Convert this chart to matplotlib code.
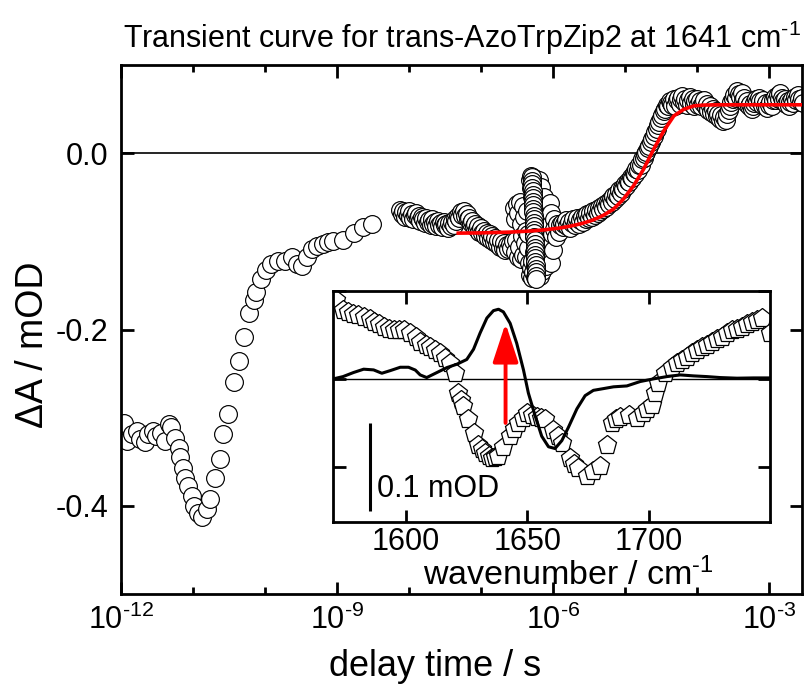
import matplotlib
matplotlib.use("Agg")
import matplotlib.pyplot as plt
import numpy as np
from matplotlib.ticker import FixedLocator, FixedFormatter, NullFormatter

plt.rcParams['font.family'] = ['Liberation Sans', 'DejaVu Sans']
plt.rcParams['mathtext.fontset'] = 'custom'
plt.rcParams['mathtext.rm'] = 'Liberation Sans'
plt.rcParams['mathtext.it'] = 'Liberation Sans:italic'
plt.rcParams['mathtext.bf'] = 'Liberation Sans:bold'
plt.rcParams['mathtext.default'] = 'regular'
plt.rcParams['axes.unicode_minus'] = False

# ---- transient at 1641 cm-1 (delay given as log10 of seconds) ----
early_logt = [-11.96, -11.92, -11.85, -11.78, -11.74, -11.67, -11.62, -11.55, -11.51, -11.44,
              -11.39, -11.34, -11.30, -11.25, -11.20, -11.18, -11.14, -11.11, -11.07, -11.02,
              -10.98, -10.93, -10.88, -10.81, -10.76, -10.69, -10.63, -10.58, -10.51, -10.43,
              -10.36, -10.29, -10.22, -10.15, -10.12, -10.05, -9.98, -9.91, -9.82, -9.72,
              -9.63, -9.55, -9.49, -9.42, -9.35, -9.28, -9.20, -9.12, -9.05, -8.91,
              -8.77, -8.64, -8.51]
early_val = [-0.306, -0.326, -0.319, -0.315, -0.324, -0.328, -0.319, -0.315, -0.321, -0.317,
             -0.326, -0.307, -0.311, -0.323, -0.334, -0.345, -0.357, -0.368, -0.377, -0.389,
             -0.400, -0.408, -0.413, -0.404, -0.392, -0.368, -0.347, -0.318, -0.296, -0.260,
             -0.236, -0.209, -0.181, -0.166, -0.158, -0.143, -0.132, -0.126, -0.122, -0.122,
             -0.118, -0.126, -0.128, -0.118, -0.109, -0.105, -0.103, -0.101, -0.100, -0.098,
             -0.090, -0.084, -0.080]

ns_logt = [-8.12, -8.10, -8.08, -8.06, -8.04, -8.02, -8.00, -7.98, -7.96, -7.94,
           -7.92, -7.90, -7.88, -7.86, -7.84, -7.82, -7.80, -7.78, -7.76, -7.74,
           -7.72, -7.70, -7.68, -7.66, -7.64, -7.62, -7.60, -7.58, -7.56, -7.54,
           -7.52, -7.50, -7.48, -7.46, -7.44, -7.42, -7.40, -7.38, -7.36, -7.34,
           -7.32, -7.30, -7.28, -7.26, -7.24, -7.22, -7.20, -7.18, -7.16, -7.14,
           -7.12, -7.10, -7.08, -7.06, -7.04, -7.02, -7.00, -6.98, -6.96, -6.94,
           -6.92, -6.90, -6.88, -6.86, -6.84, -6.82, -6.80, -6.78, -6.76, -6.74,
           -6.72, -6.70, -6.68, -6.66, -6.64, -6.62, -6.60, -6.58, -6.56]
ns_val = [-0.064, -0.069, -0.066, -0.072, -0.067, -0.070, -0.065, -0.073, -0.069, -0.075,
          -0.070, -0.068, -0.074, -0.071, -0.077, -0.072, -0.075, -0.079, -0.073, -0.078,
          -0.076, -0.081, -0.075, -0.080, -0.078, -0.083, -0.077, -0.082, -0.079, -0.084,
          -0.078, -0.082, -0.080, -0.085, -0.079, -0.083, -0.078, -0.081, -0.075, -0.077,
          -0.071, -0.073, -0.067, -0.070, -0.066, -0.071, -0.069, -0.075, -0.073, -0.079,
          -0.077, -0.083, -0.080, -0.086, -0.083, -0.089, -0.085, -0.091, -0.088, -0.094,
          -0.090, -0.096, -0.092, -0.099, -0.094, -0.101, -0.096, -0.103, -0.098, -0.106,
          -0.100, -0.108, -0.102, -0.110, -0.104, -0.109, -0.103, -0.107, -0.100]

# scattered stretch where the two delay ranges overlap
noisy_logt = [-6.54, -6.53, -6.52, -6.51, -6.50, -6.49, -6.48, -6.47, -6.46, -6.45,
              -6.44, -6.43, -6.42, -6.41, -6.40, -6.39, -6.38, -6.37, -6.36, -6.35,
              -6.34, -6.33, -6.32, -6.315, -6.31, -6.305, -6.30, -6.295, -6.29, -6.285,
              -6.28, -6.275, -6.27, -6.265, -6.26, -6.255, -6.25, -6.245, -6.24, -6.235,
              -6.23, -6.225, -6.22, -6.215, -6.21, -6.205, -6.20, -6.195, -6.19, -6.185,
              -6.18, -6.175, -6.17, -6.165, -6.16, -6.155, -6.15, -6.145, -6.14, -6.13,
              -6.12, -6.11, -6.10, -6.09, -6.08, -6.07, -6.06, -6.05, -6.04, -6.03,
              -6.02, -6.01, -6.00, -5.99, -5.98, -5.96, -5.94, -5.92, -5.90]
noisy_val = [-0.062, -0.112, -0.075, -0.098, -0.058, -0.118, -0.068, -0.106, -0.055, -0.120,
             -0.080, -0.094, -0.060, -0.115, -0.072, -0.102, -0.088, -0.118, -0.065, -0.108,
             -0.092, -0.125, -0.030, -0.138, -0.040, -0.130, -0.026, -0.142, -0.050, -0.122,
             -0.035, -0.135, -0.060, -0.112, -0.028, -0.140, -0.045, -0.128, -0.070, -0.100,
             -0.033, -0.136, -0.055, -0.118, -0.040, -0.132, -0.065, -0.108, -0.030, -0.139,
             -0.048, -0.125, -0.078, -0.095, -0.038, -0.134, -0.058, -0.115, -0.085, -0.120,
             -0.050, -0.110, -0.070, -0.128, -0.060, -0.100, -0.082, -0.118, -0.056, -0.124,
             -0.068, -0.092, -0.110, -0.075, -0.086, -0.095, -0.080, -0.089, -0.082]
column_logt = [-6.29, -6.288, -6.286, -6.284, -6.282, -6.28, -6.278, -6.276, -6.274, -6.272,
               -6.27, -6.268, -6.266, -6.264, -6.262, -6.26, -6.258, -6.256, -6.254, -6.252,
               -6.25, -6.248, -6.246, -6.244, -6.242, -6.24, -6.238, -6.236, -6.234, -6.232]
column_val = [-0.027, -0.031, -0.035, -0.039, -0.043, -0.047, -0.051, -0.055, -0.059, -0.063,
              -0.067, -0.071, -0.075, -0.079, -0.083, -0.087, -0.091, -0.095, -0.099, -0.103,
              -0.107, -0.111, -0.115, -0.119, -0.123, -0.127, -0.131, -0.135, -0.139, -0.143]

rise_logt = [-5.88, -5.86, -5.84, -5.82, -5.80, -5.78, -5.76, -5.74, -5.72, -5.70,
             -5.68, -5.66, -5.64, -5.62, -5.60, -5.58, -5.56, -5.54, -5.52, -5.50,
             -5.48, -5.46, -5.44, -5.42, -5.40, -5.38, -5.36, -5.34, -5.32, -5.30,
             -5.28, -5.26, -5.24, -5.22, -5.20, -5.18, -5.16, -5.14, -5.12, -5.10,
             -5.08, -5.06, -5.04, -5.02, -5.00, -4.98, -4.96, -4.94, -4.92, -4.90,
             -4.88, -4.86, -4.84, -4.82, -4.80, -4.78, -4.76, -4.74, -4.72, -4.70,
             -4.68, -4.66, -4.64, -4.62, -4.60, -4.58, -4.56, -4.54, -4.52, -4.50,
             -4.48, -4.46, -4.44, -4.42, -4.40, -4.38, -4.36]
rise_val = [-0.079, -0.084, -0.080, -0.076, -0.083, -0.078, -0.085, -0.079, -0.075, -0.082,
            -0.077, -0.073, -0.080, -0.076, -0.072, -0.078, -0.071, -0.075, -0.069, -0.073,
            -0.068, -0.072, -0.066, -0.070, -0.064, -0.068, -0.062, -0.066, -0.060, -0.063,
            -0.058, -0.061, -0.055, -0.058, -0.052, -0.055, -0.049, -0.052, -0.046, -0.048,
            -0.042, -0.045, -0.039, -0.041, -0.035, -0.037, -0.031, -0.033, -0.027, -0.028,
            -0.022, -0.024, -0.018, -0.019, -0.013, -0.013, -0.007, -0.006, -0.001, 0.001,
            0.006, 0.008, 0.013, 0.016, 0.020, 0.024, 0.027, 0.032, 0.035, 0.040,
            0.043, 0.048, 0.050, 0.055, 0.054, 0.059, 0.057]

plateau_logt = [-4.34, -4.32, -4.30, -4.28, -4.26, -4.24, -4.22, -4.20, -4.18, -4.16,
                -4.14, -4.12, -4.10, -4.08, -4.06, -4.04, -4.02, -4.00, -3.98, -3.96,
                -3.94, -3.92, -3.90, -3.88, -3.86, -3.84, -3.82, -3.80, -3.78, -3.76,
                -3.74, -3.72, -3.70, -3.68, -3.66, -3.64, -3.62, -3.60, -3.58, -3.56,
                -3.54, -3.52, -3.50, -3.48, -3.46, -3.44, -3.42, -3.40, -3.38, -3.36,
                -3.34, -3.32, -3.30, -3.28, -3.26, -3.24, -3.22, -3.20, -3.18, -3.16,
                -3.14, -3.12, -3.10, -3.08, -3.06, -3.04, -3.02, -3.00, -2.98, -2.96,
                -2.94, -2.92, -2.90, -2.88, -2.86, -2.84, -2.82, -2.80, -2.78, -2.76,
                -2.74, -2.72, -2.70, -2.68, -2.66, -2.64, -2.62, -2.60, -2.58, -2.56,
                -2.54, -2.52]
plateau_val = [0.055, 0.061, 0.054, 0.060, 0.063, 0.056, 0.061, 0.065, 0.058, 0.062,
               0.055, 0.060, 0.064, 0.057, 0.061, 0.054, 0.059, 0.062, 0.055, 0.059,
               0.053, 0.057, 0.060, 0.052, 0.056, 0.049, 0.053, 0.047, 0.050, 0.044,
               0.048, 0.042, 0.045, 0.039, 0.043, 0.036, 0.041, 0.038, 0.045, 0.049,
               0.054, 0.058, 0.062, 0.066, 0.063, 0.070, 0.067, 0.064, 0.068, 0.060,
               0.063, 0.057, 0.059, 0.053, 0.056, 0.050, 0.054, 0.057, 0.061, 0.058,
               0.063, 0.059, 0.055, 0.060, 0.053, 0.057, 0.051, 0.055, 0.058, 0.053,
               0.060, 0.064, 0.060, 0.066, 0.062, 0.068, 0.063, 0.059, 0.062, 0.056,
               0.059, 0.054, 0.058, 0.061, 0.057, 0.064, 0.060, 0.066, 0.061, 0.058,
               0.063, 0.057]

# exponential fit of the slow phase
fit_logt = [-7.34, -7.00, -6.60, -6.30, -6.10, -5.90, -5.75, -5.60, -5.45, -5.30,
            -5.16, -5.02, -4.88, -4.74, -4.60, -4.46, -4.32, -4.18, -4.04, -3.90,
            -3.70, -3.40, -3.00, -2.50]
fit_val = [-0.0907, -0.0904, -0.0895, -0.0882, -0.0868, -0.0848, -0.0826, -0.0798, -0.0760, -0.0705,
           -0.0635, -0.0520, -0.0370, -0.0181, 0.0045, 0.0253, 0.0423, 0.0499, 0.0537, 0.0546,
           0.0549, 0.0549, 0.0549, 0.0549]

# ---- inset spectra ----
ftir_wn = [1571, 1574, 1576, 1578, 1580, 1582.5, 1585, 1586.6, 1589, 1590.8,
           1593, 1594.9, 1597, 1599, 1601.8, 1604, 1605.9, 1608, 1610, 1612,
           1614, 1616, 1618.2, 1620.2, 1621.6, 1622.6, 1623.6, 1625.7, 1627.8, 1629.8,
           1631.2, 1632.6, 1634, 1635.3, 1636.6, 1638, 1640.1, 1642.9, 1644.6, 1646.3,
           1648, 1649.7, 1651.8, 1653.8, 1655.5, 1657.3, 1660.7, 1662.5, 1664.2, 1667.6,
           1669.3, 1671, 1674.5, 1677.2, 1680, 1682.7, 1684.8, 1686.5, 1688.2, 1691.7,
           1695, 1697.8, 1699.5, 1701.2, 1702.6, 1704, 1706.7, 1709.5, 1711.5, 1713.6,
           1715.7, 1717.7, 1719.8, 1721.9, 1724, 1726, 1728, 1730.1, 1732.2, 1734.3,
           1736.4, 1738.4, 1740.5, 1742.5, 1744.6, 1746.6, 1750]
ftir_val = [0.0895, 0.078, 0.076, 0.074, 0.072, 0.0706, 0.068, 0.065, 0.062, 0.059,
            0.057, 0.0555, 0.056, 0.0555, 0.0517, 0.047, 0.042, 0.039, 0.0366, 0.033,
            0.029, 0.024, 0.0178, 0.0065, -0.016, -0.024, -0.031, -0.046, -0.0615, -0.075,
            -0.080, -0.084, -0.087, -0.090, -0.089, -0.088, -0.0767, -0.065, -0.057, -0.050,
            -0.044, -0.039, -0.041, -0.0427, -0.044, -0.046, -0.0578, -0.065, -0.0728, -0.0898,
            -0.096, -0.101, -0.1106, -0.105, -0.0985, -0.075, -0.050, -0.046, -0.0427, -0.041,
            -0.0445, -0.039, -0.034, -0.0295, -0.016, -0.005, 0.0065, 0.014, 0.018, 0.0215,
            0.025, 0.029, 0.033, 0.0366, 0.039, 0.042, 0.045, 0.048, 0.052, 0.0555,
            0.057, 0.059, 0.062, 0.065, 0.067, 0.0687, 0.0517]

trans_wn = [1570, 1574, 1578.3, 1582.5, 1586.6, 1590, 1593.5, 1597.6, 1601, 1603.8,
            1605.8, 1608.5, 1612.7, 1616.8, 1620.9, 1625, 1627.8, 1630.5, 1633.3, 1636,
            1638.1, 1640.1, 1642.9, 1645.6, 1648.4, 1650.4, 1653.2, 1655.9, 1658.7, 1661.4,
            1664.2, 1666.9, 1670.4, 1673.8, 1677.2, 1681.4, 1685.5, 1691, 1696.5, 1702,
            1707.5, 1713, 1718.5, 1724, 1729.5, 1736.4, 1743.3, 1750]
trans_val = [0.0, 0.0026, 0.0072, 0.011, 0.0102, 0.0064, 0.0094, 0.0132, 0.0132, 0.010,
             0.0045, 0.0015, 0.0072, 0.0128, 0.0166, 0.022, 0.0336, 0.052, 0.069, 0.0774,
             0.079, 0.076, 0.063, 0.0404, 0.010, -0.016, -0.042, -0.065, -0.077, -0.079,
             -0.070, -0.055, -0.034, -0.019, -0.013, -0.011, -0.009, -0.008, -0.003, 0.0,
             0.0026, 0.0045, 0.0034, 0.0026, 0.0015, 0.0008, 0.0011, 0.0011]

probe_wn = 1641
arrow_from, arrow_to = -0.050, 0.063
scalebar_wn = 1585
scalebar_lo, scalebar_hi = -0.150, -0.050

main_xticks = [1e-12, 1e-9, 1e-6, 1e-3]
main_xticklabels = [r'$10^{\text{-12}}$', r'$10^{\text{-9}}$', r'$10^{\text{-6}}$', r'$10^{\text{-3}}$']
main_xminor = [1e-11, 1e-10, 1e-8, 1e-7, 1e-5, 1e-4]
main_yticks = [-0.4, -0.2, 0.0]
main_yticklabels = ['-0.4', '-0.2', '0.0']
inset_xticks = [1600, 1650, 1700]
inset_yticks = [-0.1, 0.0, 0.1]

fig = plt.figure(figsize=(8.10, 6.86), dpi=100)
ax = fig.add_axes([0.1494, 0.1341, 0.8407, 0.7711])

ax.axhline(0.0, color='black', lw=1.2, zorder=1)
circle = dict(ls='none', marker='o', ms=12.8, mfc='white', mec='black', mew=0.85, zorder=2)
for lt, v in [(early_logt, early_val), (ns_logt, ns_val), (noisy_logt, noisy_val),
              (column_logt, column_val), (rise_logt, rise_val), (plateau_logt, plateau_val)]:
    ax.plot(10.0 ** np.asarray(lt), v, **circle)
ax.plot(10.0 ** np.asarray(fit_logt), fit_val, color='#ff0000', lw=2.6, zorder=3,
        solid_capstyle='butt')

ax.set_xscale('log')
ax.set_xlim(1e-12, 10 ** -2.54)
ax.set_ylim(-0.5, 0.1)
ax.xaxis.set_major_locator(FixedLocator(main_xticks))
ax.xaxis.set_major_formatter(FixedFormatter(main_xticklabels))
ax.xaxis.set_minor_locator(FixedLocator(main_xminor))
ax.xaxis.set_minor_formatter(NullFormatter())
ax.yaxis.set_major_locator(FixedLocator(main_yticks))
ax.yaxis.set_major_formatter(FixedFormatter(main_yticklabels))
ax.yaxis.set_minor_locator(FixedLocator([]))
ax.tick_params(which='both', direction='in', top=True, right=True, width=2.0)
ax.tick_params(which='major', length=9)
ax.tick_params(axis='x', which='major', pad=8, labelsize=22)
ax.tick_params(axis='y', which='major', pad=9, labelsize=22)
ax.tick_params(which='minor', length=5)
for s in ax.spines.values():
    s.set_linewidth(2.0)
ax.set_xlabel('delay time / s', fontsize=26)
ax.xaxis.set_label_coords(0.461, -0.104)
ax.set_ylabel('ΔA / mOD', fontsize=27)
ax.yaxis.set_label_coords(-0.103, 0.4707)
ax.set_title('Transient curve for trans-AzoTrpZip2 at 1641 cm$^{\\text{-1}}$',
             fontsize=22, pad=12)

# inset: spectra around the probe frequency
axi = fig.add_axes([0.4115, 0.2395, 0.5391, 0.3367])
axi.set_facecolor('white')
axi.axhline(0.0, color='black', lw=1.0, zorder=1)
axi.plot(ftir_wn, ftir_val, ls='none', marker='p', ms=14, mfc='white', mec='black',
         mew=0.9, zorder=2)
axi.plot(trans_wn, trans_val, color='black', lw=2.2, zorder=3)
axi.annotate('', xy=(probe_wn, arrow_to), xytext=(probe_wn, arrow_from),
             arrowprops=dict(arrowstyle='-|>,head_width=0.28,head_length=0.85',
                             mutation_scale=28, color='#ff0000', lw=2.8,
                             shrinkA=0, shrinkB=0), zorder=4)
axi.plot([scalebar_wn, scalebar_wn], [scalebar_lo, scalebar_hi], color='black', lw=2.2,
         solid_capstyle='butt', zorder=4)
axi.text(1588, -0.1336, '0.1 mOD', fontsize=22, ha='left', va='baseline', zorder=4)
axi.set_xlim(1570, 1750)
axi.set_ylim(-0.162, 0.1)
axi.xaxis.set_major_locator(FixedLocator(inset_xticks))
axi.yaxis.set_major_locator(FixedLocator(inset_yticks))
axi.yaxis.set_major_formatter(NullFormatter())
axi.tick_params(which='both', direction='in', top=True, right=True, width=2.0, length=9,
                labelsize=22, pad=4)
for s in axi.spines.values():
    s.set_linewidth(2.0)
axi.set_xlabel('wavenumber / cm$^{\\text{-1}}$', fontsize=24.5)
axi.xaxis.set_label_coords(0.537, -0.155)

fig.savefig('out.png', dpi=100)
